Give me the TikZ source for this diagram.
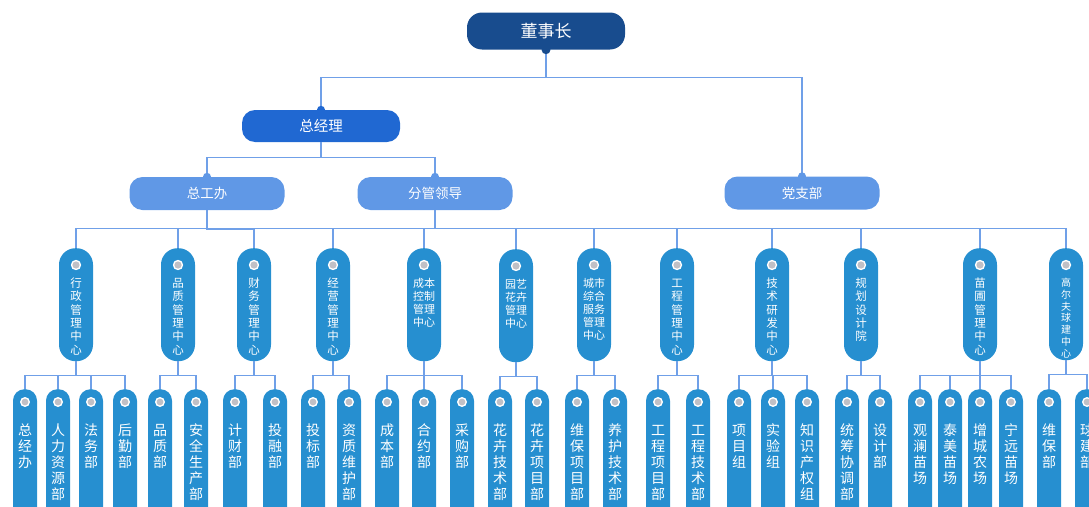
\documentclass[tikz,border=0pt]{standalone}
\usepackage{fontspec}
\setmainfont{Noto Sans CJK SC}
\usetikzlibrary{positioning}
\definecolor{orgnavy}{RGB}{24, 76,142}
\definecolor{orgblue}{RGB}{32,104,210}
\definecolor{orgsky} {RGB}{96,152,230}
\definecolor{orgcyan}{RGB}{38,143,208}
\definecolor{orgline}{RGB}{112,160,232}
\definecolor{orgdot} {RGB}{192,192,198}
\tikzset{
  headbox/.style={fill=orgnavy,rounded corners=15pt,minimum width=158pt,
                  minimum height=37pt,text=white,inner sep=0pt,
                  font=\fontsize{17}{20}\selectfont},
  gmbox/.style={headbox,fill=orgblue,minimum height=32pt,rounded corners=13pt,
                font=\fontsize{14.5}{17}\selectfont},
  subbox/.style={headbox,fill=orgsky,minimum width=155pt,minimum height=33pt,
                 rounded corners=13pt,font=\fontsize{13.5}{16}\selectfont},
  midbox/.style={fill=orgcyan,rounded corners=16.5pt,minimum width=34pt,
                 inner sep=0pt,text width=34pt,align=center,text=white,
                 anchor=north,text height=39pt,text depth=74pt,
                 font=\fontsize{11.5}{13.4}\selectfont},
  midtwo/.style={midbox,font=\fontsize{11}{13}\selectfont},
  midsmall/.style={midbox,text height=38pt,font=\fontsize{10}{11.9}\selectfont},
  leafbox/.style={fill=orgcyan,rounded corners=11.5pt,minimum width=24pt,
                  inner sep=0pt,text width=24pt,align=center,text=white,
                  anchor=north,text height=46.5pt,text depth=103.5pt,
                  font=\fontsize{14}{16}\selectfont},
  link/.style={draw=orgline,line width=1.3pt},
}
\begin{document}
\begin{tikzpicture}[x=1pt,y=-1pt]
  \useasboundingbox (0,0) rectangle (1089,506);
  \clip (0,0) rectangle (1089,506);
  % top levels
  \node[headbox](dsz) at (546,31)    {董事长};
  \node[gmbox]  (zjl) at (321,126)   {总经理};
  \node[subbox] (zgb) at (207,193.5) {总工办};
  \node[subbox](fgld) at (435,193.5) {分管领导};
  \node[subbox] (dzb) at (802,193)   {党支部};
  % centres
  \node[midbox]  (xzzx)  at (76,248)   {行\\政\\管\\理\\中\\心};
  \node[midbox]  (pzzx)  at (178,248)  {品\\质\\管\\理\\中\\心};
  \node[midbox]  (cwzx)  at (254,248)  {财\\务\\管\\理\\中\\心};
  \node[midbox]  (jyzx)  at (333,248)  {经\\营\\管\\理\\中\\心};
  \node[midtwo]  (cbzx)  at (424,248)  {成本\\控制\\管理\\中心};
  \node[midtwo]  (yyzx)  at (516,249)  {园艺\\花卉\\管理\\中心};
  \node[midtwo]  (cszx)  at (594,248)  {城市\\综合\\服务\\管理\\中心};
  \node[midbox]  (gczx)  at (677,248)  {工\\程\\管\\理\\中\\心};
  \node[midbox]  (jszx)  at (772,248)  {技\\术\\研\\发\\中\\心};
  \node[midbox]  (ghy)   at (861,248)  {规\\划\\设\\计\\院};
  \node[midbox]  (mpzx)  at (980,248)  {苗\\圃\\管\\理\\中\\心};
  \node[midsmall](gefzx) at (1066,248) {高\\尔\\夫\\球\\建\\中\\心};
  % departments
  \node[leafbox](zjb)  at (25,389)   {总\\经\\办};
  \node[leafbox](rlzy) at (58,389)   {人\\力\\资\\源\\部};
  \node[leafbox](fwb)  at (91,389)   {法\\务\\部};
  \node[leafbox](hqb)  at (125,389)  {后\\勤\\部};
  \node[leafbox](pzb)  at (160,389)  {品\\质\\部};
  \node[leafbox](aqsc) at (196,389)  {安\\全\\生\\产\\部};
  \node[leafbox](jcb)  at (235,389)  {计\\财\\部};
  \node[leafbox](trb)  at (275,389)  {投\\融\\部};
  \node[leafbox](tbb)  at (313,389)  {投\\标\\部};
  \node[leafbox](zzwh) at (349,389)  {资\\质\\维\\护\\部};
  \node[leafbox](cbb)  at (387,389)  {成\\本\\部};
  \node[leafbox](hyb)  at (424,389)  {合\\约\\部};
  \node[leafbox](cgb)  at (462,389)  {采\\购\\部};
  \node[leafbox](hhjs) at (500,389)  {花\\卉\\技\\术\\部};
  \node[leafbox](hhxm) at (537,389)  {花\\卉\\项\\目\\部};
  \node[leafbox](wbxm) at (577,389)  {维\\保\\项\\目\\部};
  \node[leafbox](yhjs) at (615,389)  {养\\护\\技\\术\\部};
  \node[leafbox](gcxm) at (658,389)  {工\\程\\项\\目\\部};
  \node[leafbox](gcjs) at (698,389)  {工\\程\\技\\术\\部};
  \node[leafbox](xmz)  at (739,389)  {项\\目\\组};
  \node[leafbox](syz)  at (773,389)  {实\\验\\组};
  \node[leafbox](zscq) at (807,389)  {知\\识\\产\\权\\组};
  \node[leafbox](tcxt) at (847,389)  {统\\筹\\协\\调\\部};
  \node[leafbox](sjb)  at (880,389)  {设\\计\\部};
  \node[leafbox](glmc) at (920,389)  {观\\澜\\苗\\场};
  \node[leafbox](tmmc) at (950,389)  {泰\\美\\苗\\场};
  \node[leafbox](zcnc) at (980,389)  {增\\城\\农\\场};
  \node[leafbox](nymc) at (1011,389) {宁\\远\\苗\\场};
  \node[leafbox](wbb)  at (1049,389) {维\\保\\部};
  \node[leafbox](qjb)  at (1087,389) {球\\建\\部};

  % connectors
  \draw[link](dsz.south) -- ++(0,28) -| (zjl.north);
  \draw[link](dsz.south) -- ++(0,28) -| (dzb.north);
  \draw[link](zjl.south) -- ++(0,15) -| (zgb.north);
  \draw[link](zjl.south) -- ++(0,15) -| (fgld.north);
  \draw[link](zgb.south) -- ++(0,19) -| (cwzx.north);
  \foreach \m in {xzzx,pzzx,cwzx,jyzx,cbzx,yyzx,cszx,gczx,jszx,ghy,mpzx,gefzx}
    \draw[link](fgld.south) -- ++(0,18) -| (\m.north);
  \foreach \m/\d in {xzzx/zjb,xzzx/rlzy,xzzx/fwb,xzzx/hqb,pzzx/pzb,pzzx/aqsc,
      cwzx/jcb,cwzx/trb,jyzx/tbb,jyzx/zzwh,cbzx/cbb,cbzx/hyb,cbzx/cgb,
      yyzx/hhjs,yyzx/hhxm,cszx/wbxm,cszx/yhjs,gczx/gcxm,gczx/gcjs,
      jszx/xmz,jszx/syz,jszx/zscq,ghy/tcxt,ghy/sjb,mpzx/glmc,mpzx/tmmc,
      mpzx/zcnc,mpzx/nymc,gefzx/wbb,gefzx/qjb}
    \draw[link](\m.south) -- ++(0,14) -| (\d.north);

  % joints and holes
  \fill[orgnavy](dsz.south) circle (4.5);
  \fill[orgblue](zjl.north) circle (4);
  \fill[orgsky] (zgb.north) circle (4) (fgld.north) circle (4) (dzb.north) circle (4);
  \foreach \m in {xzzx,pzzx,cwzx,jyzx,cbzx,yyzx,cszx,gczx,jszx,ghy,mpzx,gefzx}{
    \fill[white] (\m.north) ++(0,17) circle (5.2);
    \fill[orgdot](\m.north) ++(0,17) circle (3.6);}
  \foreach \d in {zjb,rlzy,fwb,hqb,pzb,aqsc,jcb,trb,tbb,zzwh,cbb,hyb,cgb,hhjs,
      hhxm,wbxm,yhjs,gcxm,gcjs,xmz,syz,zscq,tcxt,sjb,glmc,tmmc,zcnc,nymc,wbb,qjb}{
    \fill[white] (\d.north) ++(0,13) circle (5);
    \fill[orgdot](\d.north) ++(0,13) circle (3.4);}
\end{tikzpicture}
\end{document}
